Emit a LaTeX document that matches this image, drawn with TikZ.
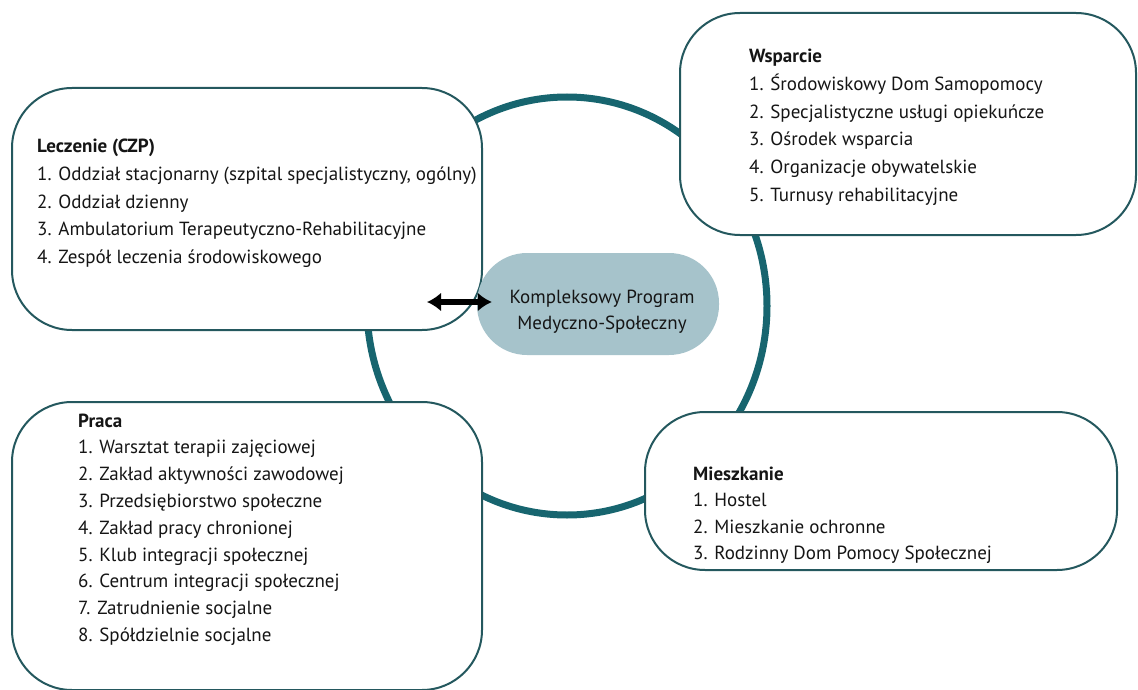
\documentclass[tikz,border=0pt]{standalone}
\usepackage{fontspec}
\setmainfont{PT Sans}
\usetikzlibrary{arrows.meta}
\definecolor{ringc}{HTML}{17656F}
\definecolor{bord}{HTML}{24585E}
\definecolor{ctrfill}{HTML}{A6C3CB}
\definecolor{txt}{HTML}{151515}
\begin{document}
\begin{tikzpicture}[x=1pt,y=-1pt,
  box/.style={draw=bord, line width=2pt, fill=white, rounded corners=60pt, inner sep=0pt},
  head/.style={anchor=base west, inner sep=0pt, font=\fontsize{19}{27}\selectfont\bfseries, text=txt},
  item/.style={anchor=base west, inner sep=0pt, font=\fontsize{19}{27}\selectfont, text=txt},
  ctrnode/.style={fill=ctrfill, rounded corners=50pt, inner sep=0pt, align=center,
    font=\fontsize{19}{26}\selectfont, text=txt},
  dblarrow/.style={line width=5.5pt, {Latex[length=14pt,width=19pt]}-{Latex[length=14pt,width=19pt]}}]
\clip (0,0) rectangle (1138,690);
\draw[ringc, line width=7pt] (567,306) ellipse [x radius=200, y radius=209];

% boxes
\node[box, minimum width=470pt, minimum height=242pt] (lec) at (247,209) {};
\node[box, minimum width=456pt, minimum height=222pt] (wsp) at (908,124) {};
\node[box, minimum width=470pt, minimum height=288pt] (pra) at (247,546) {};
\node[box, minimum width=472pt, minimum height=158pt] (mie) at (881,491) {};

% Leczenie
\node[head] (lech) at (37,153) {Leczenie (CZP)};
\foreach \t [count=\i] in {{1. Oddział stacjonarny (szpital specjalistyczny, ogólny)},
  {2. Oddział dzienny},{3. Ambulatorium Terapeutyczno-Rehabilitacyjne},
  {4. Zespół leczenia środowiskowego}}
  \node[item] (lec\i) at (37,{153+27.5*\i}) {\t};

% Wsparcie
\node[head] (wsph) at (749,63) {Wsparcie};
\foreach \t [count=\i] in {{1. Środowiskowy Dom Samopomocy},
  {2. Specjalistyczne usługi opiekuńcze},{3. Ośrodek wsparcia},
  {4. Organizacje obywatelskie},{5. Turnusy rehabilitacyjne}}
  \node[item] (wsp\i) at (749,{63+27.6*\i}) {\t};

% Praca
\node[head] (prah) at (78,427) {Praca};
\foreach \t [count=\i] in {{1. Warsztat terapii zajęciowej},
  {2. Zakład aktywności zawodowej},{3. Przedsiębiorstwo społeczne},
  {4. Zakład pracy chronionej},{5. Klub integracji społecznej},
  {6. Centrum integracji społecznej},{7. Zatrudnienie socjalne},
  {8. Spółdzielnie socjalne}}
  \node[item] (pra\i) at (78,{427+26.8*\i}) {\t};

% Mieszkanie
\node[head] (mieh) at (693,480) {Mieszkanie};
\foreach \t [count=\i] in {{1. Hostel},{2. Mieszkanie ochronne},
  {3. Rodzinny Dom Pomocy Społecznej}}
  \node[item] (mie\i) at (693,{480+26.5*\i}) {\t};

% centre
\node[ctrnode, minimum width=242pt, minimum height=102pt] (ctr) at (598,304) {};
\node[font=\fontsize{19}{26}\selectfont, text=txt, align=center, inner sep=0pt, anchor=base]
  (ctrtxt) at (602,329) {Kompleksowy Program\\Medyczno-Społeczny};
\coordinate (arrL) at (427,302);
\draw[dblarrow] (arrL) -- ([xshift=15pt,yshift=2pt]ctr.west);
\end{tikzpicture}
\end{document}
